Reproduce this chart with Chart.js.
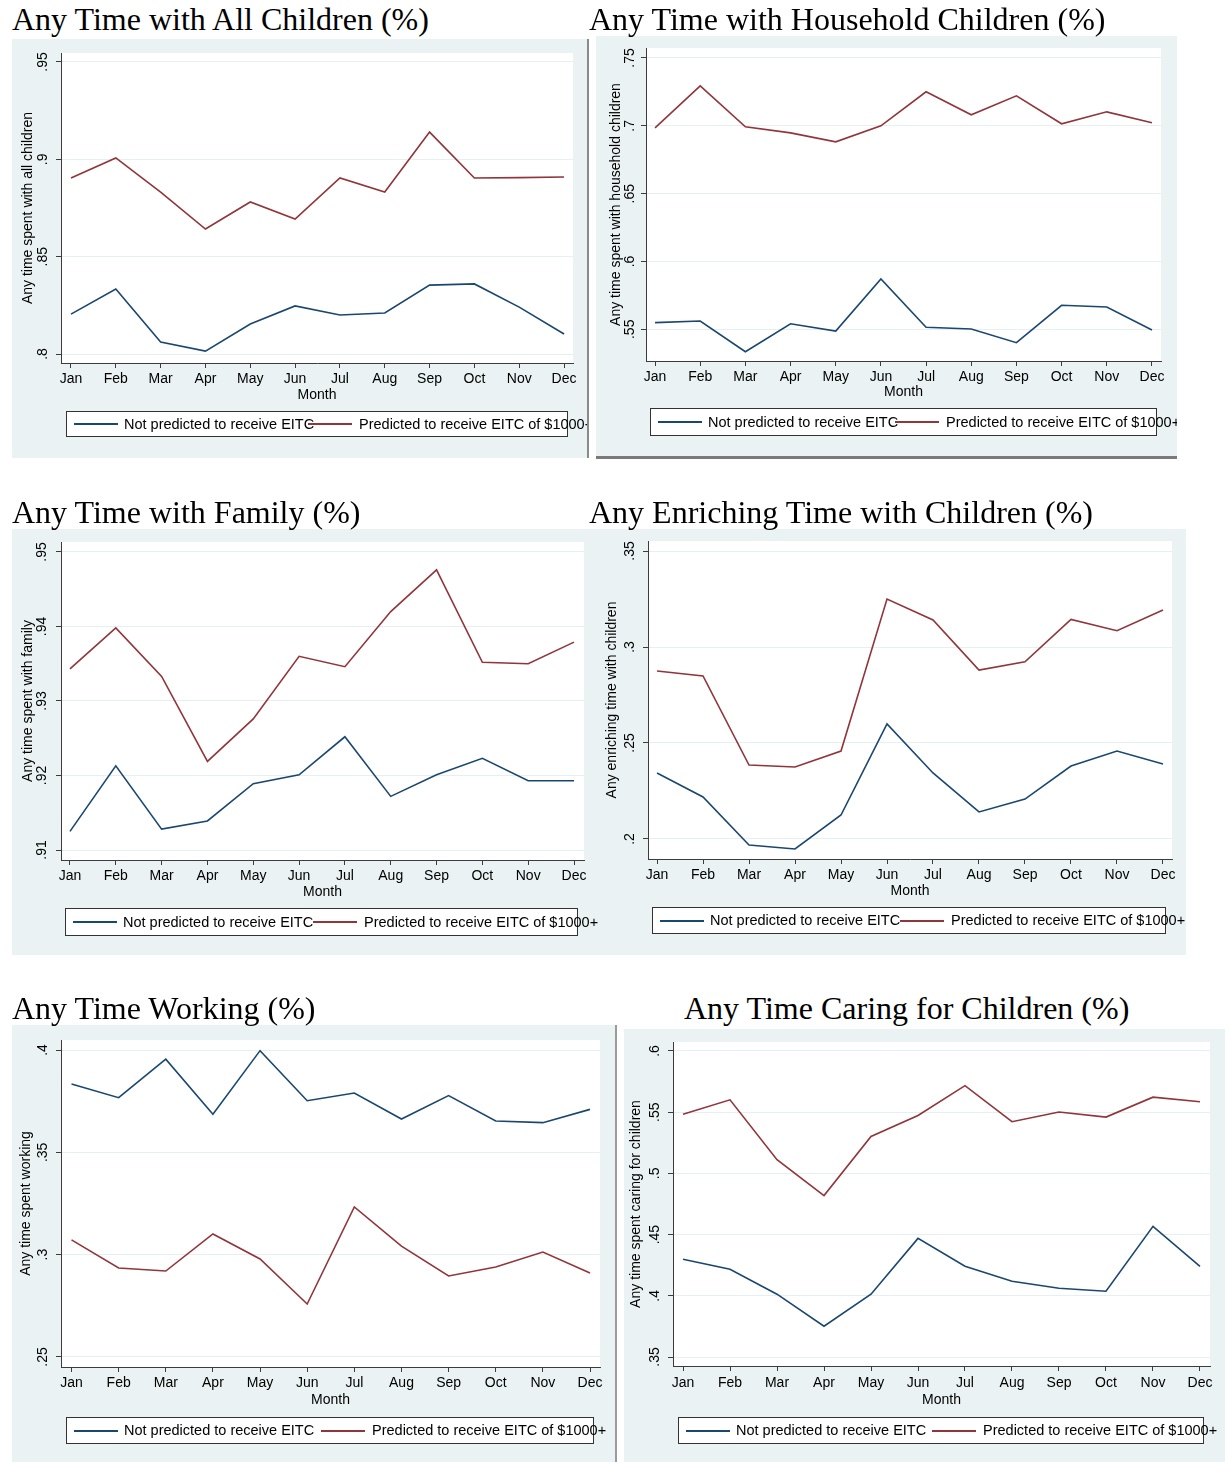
<!DOCTYPE html>
<html>
<head>
<meta charset="utf-8">
<script src="https://cdn.jsdelivr.net/npm/chart.js@4.4.1/dist/chart.umd.min.js"></script>
<style>
  body { margin: 0; width: 1230px; height: 1462px; background: #fff; position: relative; overflow: hidden;
         font-family: "Liberation Sans", Arial, sans-serif; }
  .title { position: absolute; font-family: "Liberation Serif", "Times New Roman", serif; font-size: 32px;
           line-height: 32px; white-space: nowrap; color: #000; }
  .panel { position: absolute; overflow: hidden; background: #eaf2f3; }
  .panel canvas { position: absolute; left: 0; top: 0; }
  .legend { position: absolute; border: 1px solid #333; background: #fff; box-sizing: border-box; overflow: visible; }
  .legend span { position: absolute; top: 0; white-space: nowrap; font-size: 14.5px; color: #000; }
  .legend i { position: absolute; height: 2px; display: block; }
  .edge { position: absolute; }
</style>
</head>
<body>
<script>
// Months on the horizontal axis
const MONTHS = ['Jan', 'Feb', 'Mar', 'Apr', 'May', 'Jun', 'Jul', 'Aug', 'Sep', 'Oct', 'Nov', 'Dec'];
const SERIES = ['Not predicted to receive EITC', 'Predicted to receive EITC of $1000+'];

// Any time with all children
const allChildrenNot  = [0.8205, 0.8334, 0.8062, 0.8015, 0.8154, 0.8247, 0.8200, 0.8211, 0.8354, 0.8360, 0.8241, 0.8103];
const allChildrenEitc = [0.8904, 0.9007, 0.8832, 0.8642, 0.8781, 0.8693, 0.8904, 0.8832, 0.9140, 0.8904, 0.8906, 0.8909];
const allChildrenTicks = [0.8, 0.85, 0.9, 0.95];
const allChildrenTickLabels = ['.8', '.85', '.9', '.95'];

// Any time with household children
const householdNot  = [0.5549, 0.5561, 0.5335, 0.5541, 0.5487, 0.5871, 0.5515, 0.5502, 0.5401, 0.5677, 0.5664, 0.5495];
const householdEitc = [0.6985, 0.7295, 0.6993, 0.6948, 0.6882, 0.7000, 0.7251, 0.7081, 0.7221, 0.7015, 0.7103, 0.7022];
const householdTicks = [0.55, 0.6, 0.65, 0.7, 0.75];
const householdTickLabels = ['.55', '.6', '.65', '.7', '.75'];

// Any time with family
const familyNot  = [0.9125, 0.9213, 0.9128, 0.9139, 0.9189, 0.9201, 0.9252, 0.9172, 0.9201, 0.9223, 0.9193, 0.9193];
const familyEitc = [0.9343, 0.9398, 0.9333, 0.9219, 0.9276, 0.9360, 0.9346, 0.9420, 0.9476, 0.9352, 0.9350, 0.9379];
const familyTicks = [0.91, 0.92, 0.93, 0.94, 0.95];
const familyTickLabels = ['.91', '.92', '.93', '.94', '.95'];

// Any enriching time with children
const enrichingNot  = [0.2344, 0.2219, 0.1969, 0.1948, 0.2125, 0.2599, 0.2344, 0.2141, 0.2208, 0.2380, 0.2458, 0.2391];
const enrichingEitc = [0.2875, 0.2849, 0.2385, 0.2375, 0.2458, 0.3250, 0.3141, 0.2880, 0.2923, 0.3144, 0.3085, 0.3193];
const enrichingTicks = [0.2, 0.25, 0.3, 0.35];
const enrichingTickLabels = ['.2', '.25', '.3', '.35'];

// Any time working
const workingNot  = [0.3834, 0.3767, 0.3955, 0.3686, 0.3997, 0.3752, 0.3790, 0.3663, 0.3777, 0.3653, 0.3645, 0.3710];
const workingEitc = [0.3072, 0.2935, 0.2920, 0.3101, 0.2979, 0.2759, 0.3233, 0.3042, 0.2896, 0.2940, 0.3013, 0.2910];
const workingTicks = [0.25, 0.3, 0.35, 0.4];
const workingTickLabels = ['.25', '.3', '.35', '.4'];

// Any time caring for children
const caringNot  = [0.4298, 0.4217, 0.4013, 0.3752, 0.4013, 0.4469, 0.4241, 0.4119, 0.4062, 0.4037, 0.4567, 0.4241];
const caringEitc = [0.5484, 0.5601, 0.5112, 0.4819, 0.5302, 0.5473, 0.5717, 0.5422, 0.5501, 0.5460, 0.5623, 0.5585];
const caringTicks = [0.35, 0.4, 0.45, 0.5, 0.55, 0.6];
const caringTickLabels = ['.35', '.4', '.45', '.5', '.55', '.6'];

// Styling
const NAVY = '#1a476f', MAROON = '#90353b', REGION = '#eaf2f3', GRID = '#e6eff1', AXIS = '#3c3c3c';
const FONT = '"Liberation Sans", Arial, sans-serif';
const LH = 14 * 1.2;

// Page layout of the six graphs: [left, top, right, bottom] boxes in page pixels
const PANELS = [
  { title: 'Any Time with All Children (%)', titleX: 12, titleBase: 30,
    yTitle: 'Any time spent with all children', not: allChildrenNot, eitc: allChildrenEitc,
    ticks: allChildrenTicks, labels: allChildrenTickLabels,
    bg: [12, 39, 587, 458], plot: [61, 53, 573, 363], yRange: [0.79538, 0.95462], xRange: [0.777, 12.2],
    tickLabelX: 43, yTitleX: 28, xLabelY: 379, monthY: 395, legend: [66, 411, 568, 437] },
  { title: 'Any Time with Household Children (%)', titleX: 589, titleBase: 30,
    yTitle: 'Any time spent with household children', not: householdNot, eitc: householdEitc,
    ticks: householdTicks, labels: householdTickLabels,
    bg: [596, 36, 1177, 456], plot: [646, 48, 1161, 361], yRange: [0.52663, 0.75737], xRange: [0.80, 12.2],
    tickLabelX: 630, yTitleX: 616, xLabelY: 377, monthY: 392, legend: [650, 408, 1157, 436] },
  { title: 'Any Time with Family (%)', titleX: 12, titleBase: 523,
    yTitle: 'Any time spent with family', not: familyNot, eitc: familyEitc,
    ticks: familyTicks, labels: familyTickLabels,
    bg: [12, 529, 598, 955], plot: [61, 542, 584, 860], yRange: [0.90866, 0.95134], xRange: [0.804, 12.218],
    tickLabelX: 42, yTitleX: 28, xLabelY: 876, monthY: 892, legend: [65, 908, 578, 936] },
  { title: 'Any Enriching Time with Children (%)', titleX: 589, titleBase: 523,
    yTitle: 'Any enriching time with children', not: enrichingNot, eitc: enrichingEitc,
    ticks: enrichingTicks, labels: enrichingTickLabels,
    bg: [598, 529, 1186, 955], plot: [648, 541, 1172, 859], yRange: [0.18958, 0.35521], xRange: [0.804, 12.196],
    tickLabelX: 630, yTitleX: 612, xLabelY: 875, monthY: 891, legend: [652, 907, 1166, 934] },
  { title: 'Any Time Working (%)', titleX: 12, titleBase: 1019,
    yTitle: 'Any time spent working', not: workingNot, eitc: workingEitc,
    ticks: workingTicks, labels: workingTickLabels,
    bg: [12, 1025, 615, 1462], plot: [61, 1040, 600, 1367], yRange: [0.24511, 0.40489], xRange: [0.777, 12.212],
    tickLabelX: 43, yTitleX: 26, xLabelY: 1383, monthY: 1400, legend: [66, 1417, 594, 1444] },
  { title: 'Any Time Caring for Children (%)', titleX: 684, titleBase: 1019,
    yTitle: 'Any time spent caring for children', not: caringNot, eitc: caringEitc,
    ticks: caringTicks, labels: caringTickLabels,
    bg: [624, 1029, 1225, 1462], plot: [673, 1042, 1210, 1366], yRange: [0.34265, 0.60735], xRange: [0.787, 12.213],
    tickLabelX: 655, yTitleX: 636, xLabelY: 1383, monthY: 1400, legend: [678, 1417, 1204, 1444] }
];

// Graph region tint with a white plot region
const regionPaint = {
  id: 'regionPaint',
  beforeDraw(chart) {
    const { ctx, chartArea: a, width, height } = chart;
    ctx.save();
    ctx.fillStyle = REGION;
    ctx.fillRect(0, 0, width, height);
    ctx.fillStyle = '#fff';
    ctx.fillRect(a.left, a.top, a.right - a.left, a.bottom - a.top);
    ctx.restore();
  }
};

// Vertical tick labels on the y axis, placed at the scale's own tick positions
const verticalTickLabels = {
  id: 'verticalTickLabels',
  afterDraw(chart, args, opts) {
    const s = chart.scales.y;
    const ctx = chart.ctx;
    ctx.save();
    ctx.font = '14px ' + FONT;
    ctx.fillStyle = '#000';
    ctx.textAlign = 'center';
    ctx.textBaseline = 'middle';
    s.ticks.forEach((t, i) => {
      const y = s.getPixelForValue(t.value);
      ctx.save();
      ctx.translate(opts.x, y);
      ctx.rotate(-Math.PI / 2);
      ctx.fillText(opts.labels[i], 0, 0);
      ctx.restore();
    });
    ctx.restore();
  }
};

function addTitle(p) {
  const d = document.createElement('div');
  d.className = 'title';
  d.textContent = p.title;
  d.style.left = p.titleX + 'px';
  d.style.top = (p.titleBase - 26.8) + 'px';
  document.body.appendChild(d);
}

function addLegend(wrap, p) {
  const [l, t, r, b] = p.legend;
  const w = r - l, h = b - t;
  const box = document.createElement('div');
  box.className = 'legend';
  Object.assign(box.style, { left: (l - p.bg[0]) + 'px', top: (t - p.bg[1]) + 'px', width: w + 'px', height: h + 'px' });
  const mid = Math.round((h - 2) / 2);
  const key = (x, color) => {
    const k = document.createElement('i');
    Object.assign(k.style, { left: Math.round(x) + 'px', width: '44px', top: (mid - 1) + 'px', background: color });
    box.appendChild(k);
  };
  const label = (x, text) => {
    const s = document.createElement('span');
    s.textContent = text;
    Object.assign(s.style, { left: Math.round(x) + 'px', height: (h - 2) + 'px', lineHeight: (h - 2) + 'px' });
    box.appendChild(s);
  };
  key(7, NAVY);
  label(57, SERIES[0]);
  key(w / 2 - 10, MAROON);
  label(w / 2 + 41, SERIES[1]);
  wrap.appendChild(box);
}

function buildPanel(p) {
  const [bx0, by0, bx1, by1] = p.bg;
  const [px0, py0, px1, py1] = p.plot;
  const W = bx1 - bx0, H = by1 - by0;
  const wrap = document.createElement('div');
  wrap.className = 'panel';
  Object.assign(wrap.style, { left: bx0 + 'px', top: by0 + 'px', width: W + 'px', height: H + 'px' });
  const cv = document.createElement('canvas');
  cv.width = W; cv.height = H;
  cv.style.width = W + 'px'; cv.style.height = H + 'px';
  wrap.appendChild(cv);
  document.body.appendChild(wrap);

  const yWidth = px0 - bx0;
  const xHeight = p.monthY - py1 + LH / 2 + 2;

  new Chart(cv, {
    type: 'line',
    data: {
      datasets: [
        { label: SERIES[0], data: p.not.map((v, i) => ({ x: i + 1, y: v })),
          borderColor: NAVY, borderWidth: 1.6, pointRadius: 0, tension: 0, fill: false },
        { label: SERIES[1], data: p.eitc.map((v, i) => ({ x: i + 1, y: v })),
          borderColor: MAROON, borderWidth: 1.6, pointRadius: 0, tension: 0, fill: false }
      ]
    },
    options: {
      responsive: false,
      animation: false,
      devicePixelRatio: 1,
      layout: { padding: { left: 0, top: py0 - by0, right: bx1 - px1, bottom: H - (py1 - by0) - xHeight } },
      plugins: {
        legend: { display: false },
        tooltip: { enabled: false },
        verticalTickLabels: { x: p.tickLabelX - bx0, labels: p.labels }
      },
      scales: {
        x: {
          type: 'linear', min: p.xRange[0], max: p.xRange[1],
          afterBuildTicks: s => { s.ticks = MONTHS.map((m, i) => ({ value: i + 1 })); },
          afterFit: s => { s.height = xHeight; },
          ticks: { autoSkip: false, maxRotation: 0, minRotation: 0, color: '#000',
                   padding: p.xLabelY - py1 - 5 - LH / 2, font: { family: FONT, size: 14 },
                   callback: v => MONTHS[Math.round(v) - 1] },
          grid: { drawOnChartArea: false, tickLength: 5, tickColor: AXIS, tickWidth: 1 },
          border: { color: AXIS, width: 1 },
          title: { display: true, text: 'Month', color: '#000', font: { family: FONT, size: 14 }, padding: { top: 0, bottom: 2 } }
        },
        y: {
          type: 'linear', min: p.yRange[0], max: p.yRange[1],
          afterBuildTicks: s => { s.ticks = p.ticks.map(v => ({ value: v })); },
          afterFit: s => { s.width = yWidth; },
          ticks: { display: false },
          grid: { color: GRID, lineWidth: 1, tickLength: 5, tickColor: AXIS, tickWidth: 1 },
          border: { color: AXIS, width: 1 },
          title: { display: true, text: p.yTitle, color: '#000', font: { family: FONT, size: 14 },
                   padding: { top: p.yTitleX - bx0 - LH / 2, bottom: 0 } }
        }
      }
    },
    plugins: [regionPaint, verticalTickLabels]
  });

  addLegend(wrap, p);
  addTitle(p);
}

PANELS.forEach(buildPanel);

// Frame edges between the graphs
[[587, 39, 2, 419, '#8a8a8a'], [596, 456, 581, 3, '#7a7a7a'], [615, 1025, 2, 437, '#9a9a9a']].forEach(([x, y, w, h, c]) => {
  const e = document.createElement('div');
  e.className = 'edge';
  Object.assign(e.style, { left: x + 'px', top: y + 'px', width: w + 'px', height: h + 'px', background: c });
  document.body.appendChild(e);
});
</script>
</body>
</html>
